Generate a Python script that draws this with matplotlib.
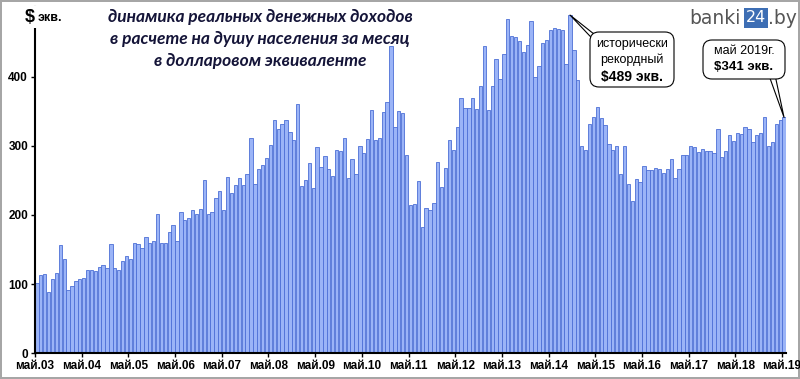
import numpy as np
import matplotlib.pyplot as plt
from matplotlib.patches import FancyBboxPatch
from matplotlib.transforms import IdentityTransform

# реальные денежные доходы на душу населения, $ экв. (май 2003 - май 2019)
y2003 = [101, 113, 115, 88, 107, 116, 156, 136]
y2004 = [91, 97, 104, 107, 109, 120, 121, 119, 125, 127, 124, 158]
y2005 = [124, 121, 133, 140, 136, 160, 158, 152, 168, 159, 162, 201]
y2006 = [159, 160, 175, 185, 162, 204, 193, 195, 207, 201, 208, 251]
y2007 = [201, 204, 224, 234, 207, 255, 232, 243, 254, 243, 259, 311]
y2008 = [245, 266, 272, 283, 301, 338, 325, 331, 338, 320, 308, 361]
y2009 = [242, 251, 275, 239, 298, 270, 285, 266, 257, 294, 292, 311]
y2010 = [253, 281, 259, 299, 289, 310, 352, 308, 312, 349, 363, 444]
y2011 = [327, 350, 348, 286, 214, 216, 249, 183, 210, 207, 217, 276]
y2012 = [241, 268, 308, 294, 327, 369, 354, 355, 369, 353, 387, 444]
y2013 = [352, 387, 426, 396, 433, 484, 459, 457, 452, 435, 446, 480]
y2014 = [399, 415, 448, 453, 468, 471, 469, 468, 418, 489, 438, 395]
y2015 = [300, 294, 331, 341, 356, 340, 330, 303, 294, 300, 259, 300]
y2016 = [245, 220, 252, 248, 271, 265, 265, 268, 267, 261, 266, 281]
y2017 = [254, 267, 286, 286, 300, 298, 291, 296, 293, 292, 290, 324]
y2018 = [284, 292, 316, 307, 319, 317, 327, 324, 306, 316, 318, 341]
y2019 = [299, 305, 332, 337, 341]

dohody = (y2003 + y2004 + y2005 + y2006 + y2007 + y2008 + y2009 + y2010 + y2011
          + y2012 + y2013 + y2014 + y2015 + y2016 + y2017 + y2018 + y2019)
mai_labels = ['май.{:02d}'.format(g) for g in range(3, 20)]

x = np.arange(len(dohody))
rekord = int(np.argmax(dohody))

fig = plt.figure(figsize=(8, 3.79), dpi=100)
fig.patch.set_edgecolor('#a6a6a6')
fig.patch.set_linewidth(1.5)
ax = fig.add_axes([0.04375, 0.0678, 0.93875, 0.9125])

ax.bar(x, dohody, width=0.85, color='#9bb4f7', edgecolor='#4d6fd6', linewidth=0.6)

ax.set_xlim(-0.5, len(dohody) - 0.5)
ax.set_ylim(0, 500)
ax.set_yticks([0, 100, 200, 300, 400])
ax.set_xticks(x[::12] - 0.5)
ax.set_xticklabels(mai_labels)
for lab in ax.get_xticklabels() + ax.get_yticklabels():
    lab.set_fontfamily('Liberation Sans')
    lab.set_fontweight('bold')
    lab.set_fontsize(8.5)
ax.tick_params(axis='both', length=3, width=1, pad=2)
for s in ['top', 'right']:
    ax.spines[s].set_visible(False)
ax.spines['left'].set_linewidth(1.5)
ax.spines['bottom'].set_linewidth(1.5)

# подпись оси
fig.text(25 / 800, 1 - 17 / 379, '$', fontsize=13, fontweight='bold', va='center',
         family='Liberation Sans',
         bbox=dict(fc='white', ec='none', pad=2))
fig.text(38 / 800, 1 - 18 / 379, 'экв.', fontsize=9, fontweight='bold', va='center',
         family='Liberation Sans')

# заголовок
zag = ['динамика реальных денежных доходов',
       'в расчете на душу населения за месяц',
       'в долларовом эквиваленте']
for k, t in enumerate(zag):
    fig.text(260 / 800, 1 - (17 + 22 * k) / 379, t, ha='center', va='center',
             fontsize=12.5, fontweight='bold', style='italic', family='Lato',
             color='#141438')

# логотип
fig.text(689 / 800, 1 - 18 / 379, 'banki', fontsize=13.5, color='#555555',
         va='center', family='DejaVu Sans')
fig.text(746 / 800, 1 - 18 / 379, '24', fontsize=11.5, color='white', va='center',
         family='DejaVu Sans', bbox=dict(fc='#3d6eb4', ec='none', pad=1.5))
fig.text(768 / 800, 1 - 18 / 379, '.by', fontsize=13.5, color='#555555',
         va='center', family='DejaVu Sans')

# выноски: указатель, рамка, текст
strelka = dict(arrowstyle='wedge,tail_width=0.5', fc='white', ec='black', lw=0.8,
               shrinkA=0, shrinkB=0)
H = 379


def vynoska(xy, x0, y0, w, h, koren):
    ax.annotate('', xy=xy, xytext=koren, textcoords='figure pixels',
                arrowprops=strelka)
    fig.patches.append(FancyBboxPatch((x0, H - y0 - h), w, h,
                                      boxstyle='round,pad=0,rounding_size=9',
                                      fc='white', ec='black', lw=0.8,
                                      transform=IdentityTransform(), zorder=1))


vynoska((rekord, dohody[rekord]), 590, 32, 84, 55, (606, H - 48))
fig.text(632 / 800, 1 - 44 / H, 'исторически', ha='center', va='center',
         fontsize=9, family='Liberation Sans')
fig.text(632 / 800, 1 - 60 / H, 'рекордный', ha='center', va='center',
         fontsize=9, family='Liberation Sans')
fig.text(632 / 800, 1 - 77 / H, '$489 экв.', ha='center', va='center',
         fontsize=10, fontweight='bold', family='Liberation Sans')

vynoska((x[-1], dohody[-1]), 703, 40, 82, 39, (770, H - 68))
fig.text(744 / 800, 1 - 51 / H, 'май 2019г.', ha='center', va='center',
         fontsize=9, family='Liberation Sans')
fig.text(744 / 800, 1 - 67 / H, '$341 экв.', ha='center', va='center',
         fontsize=9.5, fontweight='bold', family='Liberation Sans')

fig.savefig('out.png', dpi=100)
